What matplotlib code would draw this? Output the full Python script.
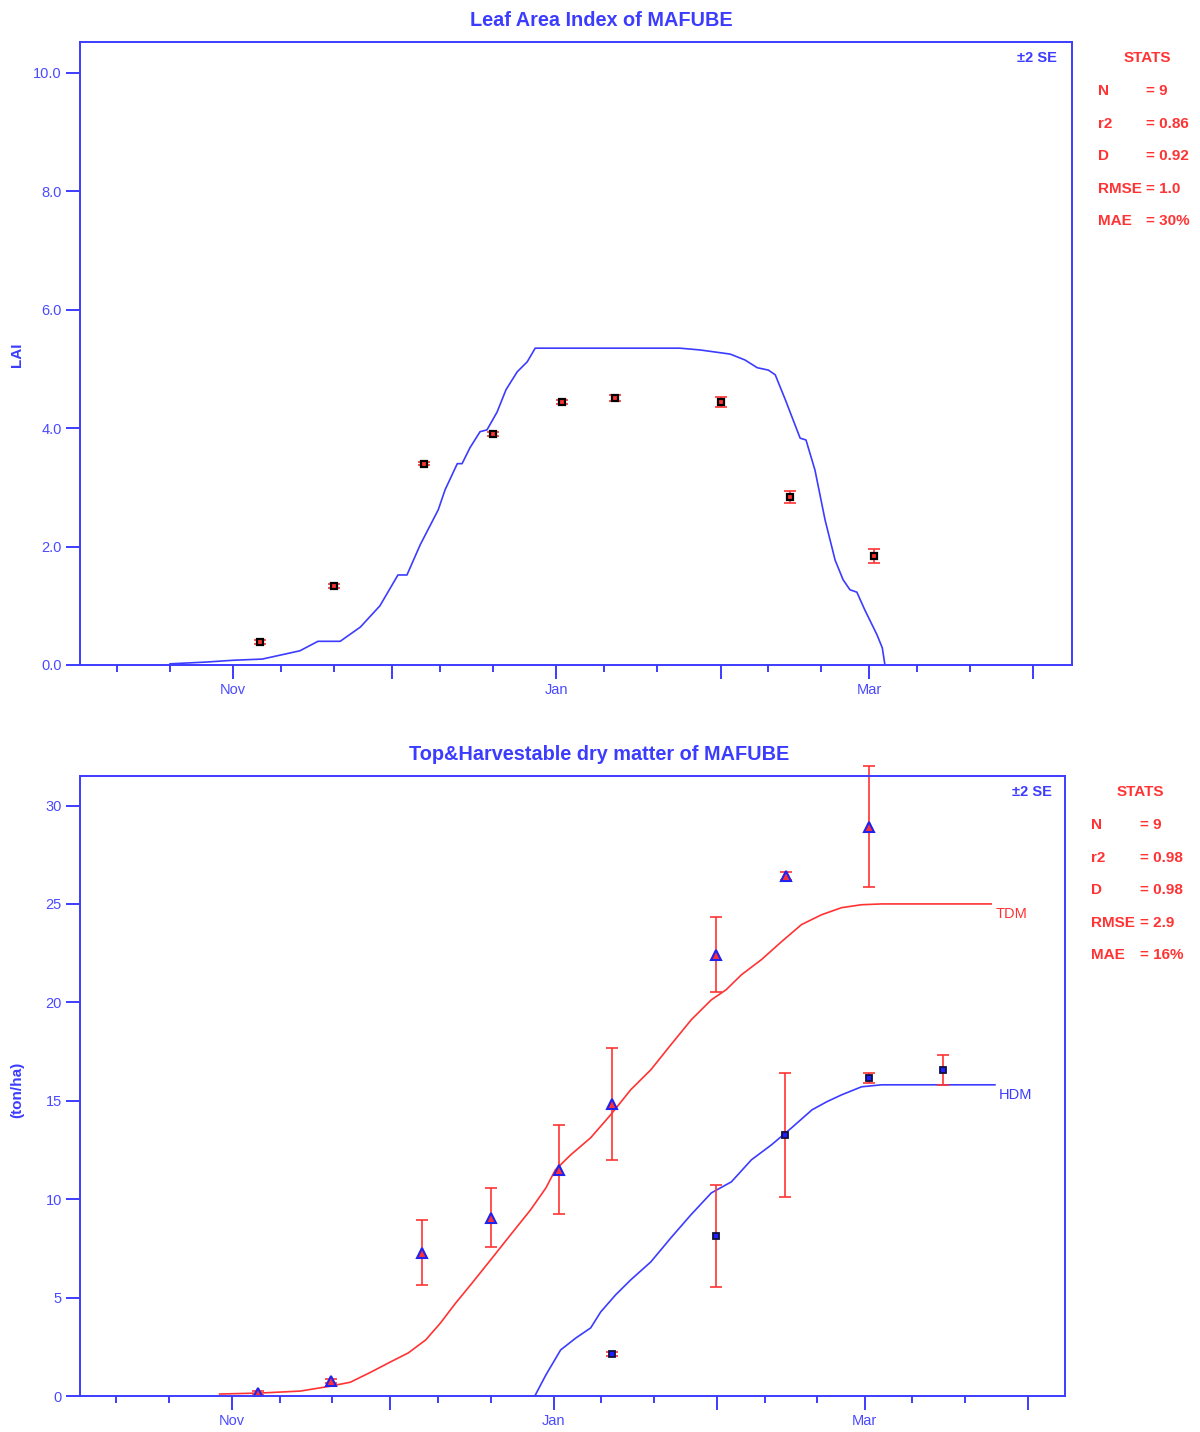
import numpy as np
import matplotlib.pyplot as plt

plt.rcParams['font.family'] = ['Liberation Sans', 'DejaVu Sans']

BLUE = '#3c3cff'
RED = '#ff3333'

# x values are days counted from 1 Nov
month_days = [0, 30, 61, 92, 120, 151]
month_labels = ['Nov', '', 'Jan', '', 'Mar', '']

# --- Leaf area index ---
lai_obs_day = [5, 19, 36, 49, 62, 72, 92, 105, 121]
lai_obs = [0.39, 1.33, 3.40, 3.90, 4.44, 4.51, 4.44, 2.84, 1.84]
lai_err = [0.03, 0.03, 0.03, 0.04, 0.03, 0.05, 0.08, 0.10, 0.12]

lai_sim_day = [-11.9, -5, 0, 5.5, 12.6, 16, 20.2, 24, 27.7, 31.1, 32.8, 35.3, 38.7,
               40, 42.3, 43.2, 44.7, 46.6, 47.9, 49.8, 51.5, 53.6, 55.5, 57,
               61.7, 84.3, 88.1, 93.8, 96.6, 98.9, 101, 102.3, 104.2, 107,
               108.1, 109.8, 111.7, 113.6, 115.1, 116.4, 117.7, 119.2, 121.5,
               122.5, 123]
lai_sim = [0.02, 0.05, 0.08, 0.10, 0.24, 0.40, 0.40, 0.64, 1.00, 1.52, 1.52, 2.03, 2.62,
           2.96, 3.40, 3.40, 3.67, 3.94, 3.97, 4.27, 4.65, 4.95, 5.12, 5.35,
           5.35, 5.35, 5.32, 5.25, 5.15, 5.02, 4.98, 4.90, 4.48, 3.83,
           3.80, 3.29, 2.45, 1.77, 1.44, 1.27, 1.23, 0.93, 0.51,
           0.29, 0.0]
lai_stats = [('N', '= 9'), ('r2', '= 0.86'), ('D', '= 0.92'),
             ('RMSE', '= 1.0'), ('MAE', '= 30%')]

# --- Dry matter ---
tdm_obs_day = [4.9, 18.8, 35.9, 49, 61.9, 72, 91.7, 105, 120.8]
tdm_obs = [0.15, 0.76, 7.27, 9.05, 11.49, 14.85, 22.42, 26.44, 28.93]
tdm_err = [0.1, 0.1, 1.65, 1.5, 2.26, 2.85, 1.9, 0.2, 3.07]

hdm_obs_day = [72, 91.7, 104.8, 120.8, 134.8]
hdm_obs = [2.14, 8.13, 13.27, 16.17, 16.57]
hdm_err = [0.1, 2.6, 3.15, 0.25, 0.77]

tdm_sim_day = [-2.4, 5.3, 12.9, 18.6, 22.4, 26.2, 30, 33.4, 36.7, 39.5, 42.4, 45.2,
               49, 52.8, 56.6, 59.5, 61.3, 64.2, 68, 71.8, 75.6, 79.4, 83.2,
               87.1, 90.9, 93.7, 96.6, 100.4, 104.2, 108, 111.8, 115.6, 119.4,
               123.2, 144]
tdm_sim = [0.1, 0.15, 0.25, 0.5, 0.7, 1.2, 1.73, 2.19, 2.85, 3.71, 4.73, 5.64,
           6.91, 8.19, 9.46, 10.57, 11.49, 12.25, 13.12, 14.29, 15.56, 16.57, 17.84,
           19.12, 20.13, 20.64, 21.4, 22.17, 23.08, 23.95, 24.45, 24.81, 24.96,
           25.0, 25.0]
hdm_sim_day = [57.4, 59.5, 62.3, 65.2, 68, 69.9, 72.7, 75.6, 79.4, 83.2, 87,
               90.9, 94.7, 98.5, 102.3, 106.1, 110, 112.8, 115.6, 119.4, 123.2, 144.7]
hdm_sim = [0.0, 1.07, 2.34, 2.95, 3.46, 4.27, 5.13, 5.9, 6.81, 8.03, 9.2,
           10.32, 10.88, 12.0, 12.76, 13.62, 14.54, 14.95, 15.3, 15.71, 15.81, 15.81]
dm_stats = [('N', '= 9'), ('r2', '= 0.98'), ('D', '= 0.98'),
            ('RMSE', '= 2.9'), ('MAE', '= 16%')]


def style_axes(ax, xlim, ylim, yticks, ylabels):
    ax.set_xlim(*xlim)
    ax.set_ylim(*ylim)
    ax.set_xticks(month_days)
    ax.set_xticklabels(month_labels)
    minor = [m + d for m in [-31] + month_days for d in (9, 19)]
    ax.set_xticks([m for m in minor if xlim[0] < m < xlim[1]], minor=True)
    ax.set_yticks(yticks)
    ax.set_yticklabels(ylabels)
    for s in ax.spines.values():
        s.set_color(BLUE)
        s.set_linewidth(1.4)
    ax.tick_params(axis='both', which='major', colors=BLUE, width=1.4,
                   length=10, labelsize=10.5, labelcolor='#4a4aff')
    ax.tick_params(axis='x', which='minor', colors=BLUE, width=1.4, length=5)
    ax.tick_params(axis='x', pad=3)
    ax.tick_params(axis='y', pad=3)


def fx(px):
    return px / 1200


def fy(py):
    return 1 - py / 1432


def stats_block(fig, x_stats, x_lab, x_eq, y0, rows):
    fig.text(fx(x_stats), fy(y0), 'STATS', color=RED, fontsize=11,
             fontweight='bold', ha='center', va='center')
    for i, (lab, val) in enumerate(rows):
        y = fy(y0 + 33 + i * 32.6)
        fig.text(fx(x_lab), y, lab, color=RED, fontsize=11, fontweight='bold',
                 ha='left', va='center')
        fig.text(fx(x_eq), y, val, color=RED, fontsize=11, fontweight='bold',
                 ha='left', va='center')


fig = plt.figure(figsize=(12, 14.32), dpi=100)

# top panel
ax1 = fig.add_axes([fx(80), fy(665), fx(1072) - fx(80), fy(42) - fy(665)])
ax1.plot(lai_sim_day, lai_sim, color=BLUE, lw=1.2)
ax1.errorbar(lai_obs_day, lai_obs, yerr=lai_err, fmt='none', ecolor=RED,
             elinewidth=1.2, capsize=4, capthick=1.2)
ax1.plot(lai_obs_day, lai_obs, 's', ms=4, mfc=RED, mec='black', mew=1.6,
         linestyle='none')
style_axes(ax1, (-28.9, 158.3), (0, 10.52), [0, 2, 4, 6, 8, 10],
           ['0.0', '2.0', '4.0', '6.0', '8.0', '10.0'])
fig.text(fx(17), fy(355), 'LAI', color=BLUE, fontsize=11, fontweight='bold',
         rotation=90, ha='center', va='center')
fig.text(fx(601), fy(20), 'Leaf Area Index of MAFUBE', color=BLUE,
         fontsize=14.3, fontweight='bold', ha='center', va='center')
fig.text(fx(1057), fy(58), '±2 SE', color=BLUE, fontsize=10.5,
         fontweight='bold', ha='right', va='center')
stats_block(fig, 1147, 1098, 1146, 58, lai_stats)

# bottom panel
ax2 = fig.add_axes([fx(80), fy(1396), fx(1065) - fx(80), fy(776) - fy(1396)])
ax2.plot(tdm_sim_day, tdm_sim, color=RED, lw=1.2)
ax2.plot(hdm_sim_day, hdm_sim, color=BLUE, lw=1.2)
eb1 = ax2.errorbar(tdm_obs_day, tdm_obs, yerr=tdm_err, fmt='none', ecolor=RED,
                   elinewidth=1.2, capsize=4, capthick=1.2)
eb2 = ax2.errorbar(hdm_obs_day, hdm_obs, yerr=hdm_err, fmt='none', ecolor=RED,
                   elinewidth=1.2, capsize=4, capthick=1.2)
for eb in (eb1, eb2):
    for art in eb.lines[1] + eb.lines[2]:
        art.set_clip_on(False)
ax2.plot(tdm_obs_day, tdm_obs, '^', ms=7, mfc=RED, mec='#2222ee', mew=1.5,
         linestyle='none')
ax2.plot(hdm_obs_day, hdm_obs, 's', ms=4.5, mfc='#2020ff', mec='#101040',
         mew=1.3, linestyle='none')
ax2.text(tdm_sim_day[-1] + 0.8, tdm_sim[-1] - 0.5, 'TDM', color=RED,
         fontsize=10.5, ha='left', va='center')
ax2.text(hdm_sim_day[-1] + 0.8, hdm_sim[-1] - 0.5, 'HDM', color=BLUE,
         fontsize=10.5, ha='left', va='center')
style_axes(ax2, (-28.9, 158.0), (0, 31.5), [0, 5, 10, 15, 20, 25, 30],
           ['0', '5', '10', '15', '20', '25', '30'])
fig.text(fx(17), fy(1090), '(ton/ha)', color=BLUE, fontsize=11,
         fontweight='bold', rotation=90, ha='center', va='center')
fig.text(fx(599), fy(755), 'Top&Harvestable dry matter of MAFUBE', color=BLUE,
         fontsize=14.3, fontweight='bold', ha='center', va='center')
fig.text(fx(1052), fy(792), '±2 SE', color=BLUE, fontsize=10.5,
         fontweight='bold', ha='right', va='center')
stats_block(fig, 1140, 1091, 1140, 792, dm_stats)

fig.savefig('out.png', dpi=100)
